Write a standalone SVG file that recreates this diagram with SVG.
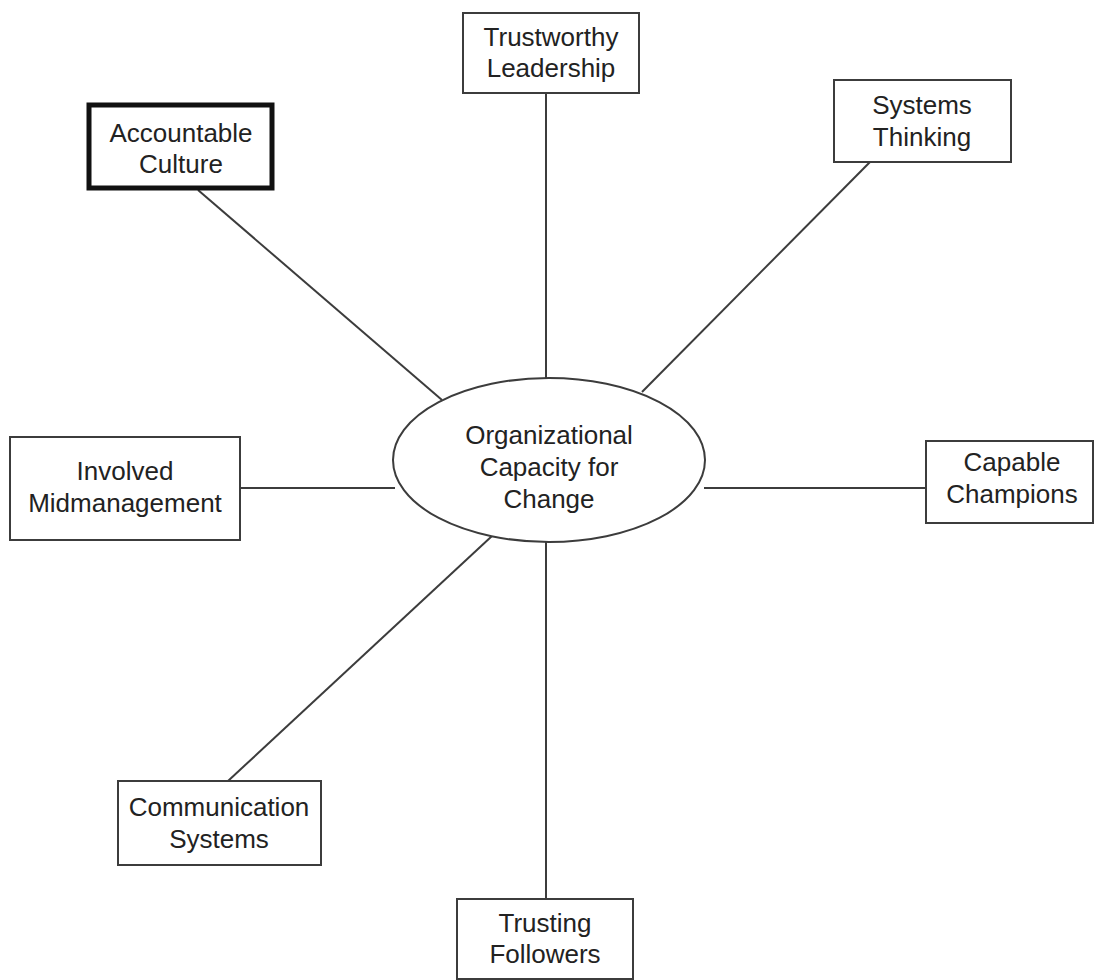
<svg xmlns="http://www.w3.org/2000/svg" width="1094" height="980" viewBox="0 0 1094 980">
<style>
.box{fill:#fff;stroke:#3c3c3c;stroke-width:2}
.thick{fill:#fff;stroke:#111;stroke-width:5}
.lbl{font-family:"Liberation Sans",Arial,sans-serif;font-size:26px;fill:#222;text-anchor:middle}
.conn{stroke:#3c3c3c;stroke-width:2;fill:none}
</style>
<rect width="1094" height="980" fill="#fff"/>
<g id="connectors">
<line class="conn" x1="546" y1="93" x2="546" y2="378"/>
<line class="conn" x1="198" y1="190" x2="442" y2="400"/>
<line class="conn" x1="870" y1="162" x2="642" y2="392"/>
<line class="conn" x1="240" y1="488" x2="395" y2="488"/>
<line class="conn" x1="704" y1="488" x2="926" y2="488"/>
<line class="conn" x1="228" y1="781" x2="492" y2="536"/>
<line class="conn" x1="546" y1="542" x2="546" y2="899"/>
</g>
<g id="center">
<ellipse class="box" cx="549" cy="460" rx="156" ry="82"/>
<text class="lbl" x="549" y="444">Organizational</text>
<text class="lbl" x="549" y="476">Capacity for</text>
<text class="lbl" x="549" y="508">Change</text>
</g>
<g id="trustworthy-leadership">
<rect class="box" x="463" y="13" width="176" height="80"/>
<text class="lbl" x="551" y="46">Trustworthy</text>
<text class="lbl" x="551" y="77">Leadership</text>
</g>
<g id="accountable-culture">
<rect class="thick" x="89" y="105" width="183" height="83"/>
<text class="lbl" x="181" y="142">Accountable</text>
<text class="lbl" x="181" y="173">Culture</text>
</g>
<g id="systems-thinking">
<rect class="box" x="834" y="80" width="177" height="82"/>
<text class="lbl" x="922" y="114">Systems</text>
<text class="lbl" x="922" y="146">Thinking</text>
</g>
<g id="involved-midmanagement">
<rect class="box" x="10" y="437" width="230" height="103"/>
<text class="lbl" x="125" y="480">Involved</text>
<text class="lbl" x="125" y="512">Midmanagement</text>
</g>
<g id="capable-champions">
<rect class="box" x="926" y="441" width="167" height="82"/>
<text class="lbl" x="1012" y="471">Capable</text>
<text class="lbl" x="1012" y="503">Champions</text>
</g>
<g id="communication-systems">
<rect class="box" x="118" y="781" width="203" height="84"/>
<text class="lbl" x="219" y="816">Communication</text>
<text class="lbl" x="219" y="848">Systems</text>
</g>
<g id="trusting-followers">
<rect class="box" x="457" y="899" width="176" height="80"/>
<text class="lbl" x="545" y="932">Trusting</text>
<text class="lbl" x="545" y="963">Followers</text>
</g>
</svg>
